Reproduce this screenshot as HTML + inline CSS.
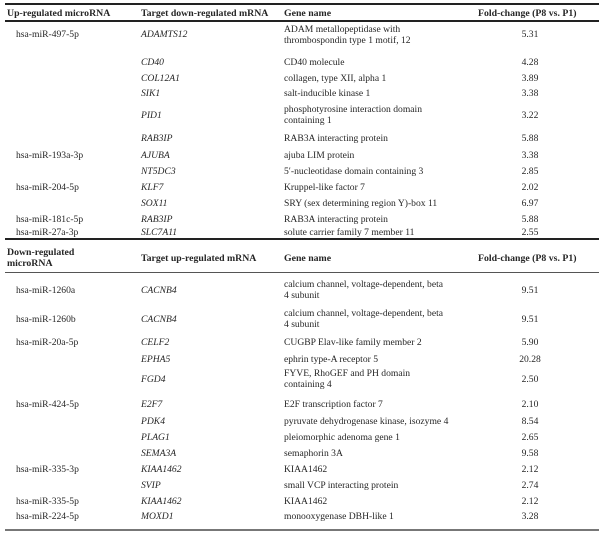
<!DOCTYPE html>
<html><head><meta charset="utf-8">
<style>
html,body{margin:0;padding:0;background:#fff;}
#t{position:relative;width:600px;height:533px;overflow:hidden;font-family:"Liberation Serif",serif;color:#262626;}
.c{position:absolute;font-size:9.6px;line-height:11px;white-space:nowrap;}
.h{font-weight:bold;font-size:9.8px;}
.i{font-style:italic;}
.r{position:absolute;left:5px;width:594px;}
.v{width:100px;text-align:center;left:480px;}
.m{left:16px}.g{left:141px}.n{left:284px}
</style></head><body>
<div id="t">
<div class="r" style="top:3px;height:2px;background:#222"></div>
<div class="c h" style="left:7px;top:8px">Up-regulated microRNA</div>
<div class="c h" style="left:141px;top:8px">Target down-regulated mRNA</div>
<div class="c h" style="left:284px;top:8px">Gene name</div>
<div class="c h" style="left:478px;top:8px">Fold-change (P8 vs. P1)</div>
<div class="r" style="top:20px;height:2px;background:#222"></div>

<div class="c m" style="top:29px">hsa-miR-497-5p</div>
<div class="c g i" style="top:29px">ADAMTS12</div>
<div class="c n" style="top:24px">ADAM metallopeptidase with<br>thrombospondin type 1 motif, 12</div>
<div class="c v" style="top:29px">5.31</div>

<div class="c g i" style="top:57px">CD40</div>
<div class="c n" style="top:57px">CD40 molecule</div>
<div class="c v" style="top:57px">4.28</div>

<div class="c g i" style="top:73px">COL12A1</div>
<div class="c n" style="top:73px">collagen, type XII, alpha 1</div>
<div class="c v" style="top:73px">3.89</div>

<div class="c g i" style="top:88px">SIK1</div>
<div class="c n" style="top:88px">salt-inducible kinase 1</div>
<div class="c v" style="top:88px">3.38</div>

<div class="c g i" style="top:110px">PID1</div>
<div class="c n" style="top:104px">phosphotyrosine interaction domain<br>containing 1</div>
<div class="c v" style="top:110px">3.22</div>

<div class="c g i" style="top:133px">RAB3IP</div>
<div class="c n" style="top:133px">RAB3A interacting protein</div>
<div class="c v" style="top:133px">5.88</div>

<div class="c m" style="top:150px">hsa-miR-193a-3p</div>
<div class="c g i" style="top:150px">AJUBA</div>
<div class="c n" style="top:150px">ajuba LIM protein</div>
<div class="c v" style="top:150px">3.38</div>

<div class="c g i" style="top:166px">NT5DC3</div>
<div class="c n" style="top:166px">5′-nucleotidase domain containing 3</div>
<div class="c v" style="top:166px">2.85</div>

<div class="c m" style="top:182px">hsa-miR-204-5p</div>
<div class="c g i" style="top:182px">KLF7</div>
<div class="c n" style="top:182px">Kruppel-like factor 7</div>
<div class="c v" style="top:182px">2.02</div>

<div class="c g i" style="top:198px">SOX11</div>
<div class="c n" style="top:198px">SRY (sex determining region Y)-box 11</div>
<div class="c v" style="top:198px">6.97</div>

<div class="c m" style="top:214px">hsa-miR-181c-5p</div>
<div class="c g i" style="top:214px">RAB3IP</div>
<div class="c n" style="top:214px">RAB3A interacting protein</div>
<div class="c v" style="top:214px">5.88</div>

<div class="c m" style="top:227px">hsa-miR-27a-3p</div>
<div class="c g i" style="top:227px">SLC7A11</div>
<div class="c n" style="top:227px">solute carrier family 7 member 11</div>
<div class="c v" style="top:227px">2.55</div>

<div class="r" style="top:238px;height:1.5px;background:#222"></div>
<div class="c h" style="left:7px;top:247px">Down-regulated<br>microRNA</div>
<div class="c h" style="left:141px;top:253px">Target up-regulated mRNA</div>
<div class="c h" style="left:284px;top:253px">Gene name</div>
<div class="c h" style="left:478px;top:253px">Fold-change (P8 vs. P1)</div>
<div class="r" style="top:272px;height:1px;background:#555"></div>

<div class="c m" style="top:285px">hsa-miR-1260a</div>
<div class="c g i" style="top:285px">CACNB4</div>
<div class="c n" style="top:279px">calcium channel, voltage-dependent, beta<br>4 subunit</div>
<div class="c v" style="top:285px">9.51</div>

<div class="c m" style="top:314px">hsa-miR-1260b</div>
<div class="c g i" style="top:314px">CACNB4</div>
<div class="c n" style="top:308px">calcium channel, voltage-dependent, beta<br>4 subunit</div>
<div class="c v" style="top:314px">9.51</div>

<div class="c m" style="top:337px">hsa-miR-20a-5p</div>
<div class="c g i" style="top:337px">CELF2</div>
<div class="c n" style="top:337px">CUGBP Elav-like family member 2</div>
<div class="c v" style="top:337px">5.90</div>

<div class="c g i" style="top:354px">EPHA5</div>
<div class="c n" style="top:354px">ephrin type-A receptor 5</div>
<div class="c v" style="top:354px">20.28</div>

<div class="c g i" style="top:374px">FGD4</div>
<div class="c n" style="top:368px">FYVE, RhoGEF and PH domain<br>containing 4</div>
<div class="c v" style="top:374px">2.50</div>

<div class="c m" style="top:399px">hsa-miR-424-5p</div>
<div class="c g i" style="top:399px">E2F7</div>
<div class="c n" style="top:399px">E2F transcription factor 7</div>
<div class="c v" style="top:399px">2.10</div>

<div class="c g i" style="top:416px">PDK4</div>
<div class="c n" style="top:416px">pyruvate dehydrogenase kinase, isozyme 4</div>
<div class="c v" style="top:416px">8.54</div>

<div class="c g i" style="top:432px">PLAG1</div>
<div class="c n" style="top:432px">pleiomorphic adenoma gene 1</div>
<div class="c v" style="top:432px">2.65</div>

<div class="c g i" style="top:448px">SEMA3A</div>
<div class="c n" style="top:448px">semaphorin 3A</div>
<div class="c v" style="top:448px">9.58</div>

<div class="c m" style="top:464px">hsa-miR-335-3p</div>
<div class="c g i" style="top:464px">KIAA1462</div>
<div class="c n" style="top:464px">KIAA1462</div>
<div class="c v" style="top:464px">2.12</div>

<div class="c g i" style="top:480px">SVIP</div>
<div class="c n" style="top:480px">small VCP interacting protein</div>
<div class="c v" style="top:480px">2.74</div>

<div class="c m" style="top:496px">hsa-miR-335-5p</div>
<div class="c g i" style="top:496px">KIAA1462</div>
<div class="c n" style="top:496px">KIAA1462</div>
<div class="c v" style="top:496px">2.12</div>

<div class="c m" style="top:511px">hsa-miR-224-5p</div>
<div class="c g i" style="top:511px">MOXD1</div>
<div class="c n" style="top:511px">monooxygenase DBH-like 1</div>
<div class="c v" style="top:511px">3.28</div>

<div class="r" style="top:529px;height:2px;background:#777"></div>
</div>
</body></html>
